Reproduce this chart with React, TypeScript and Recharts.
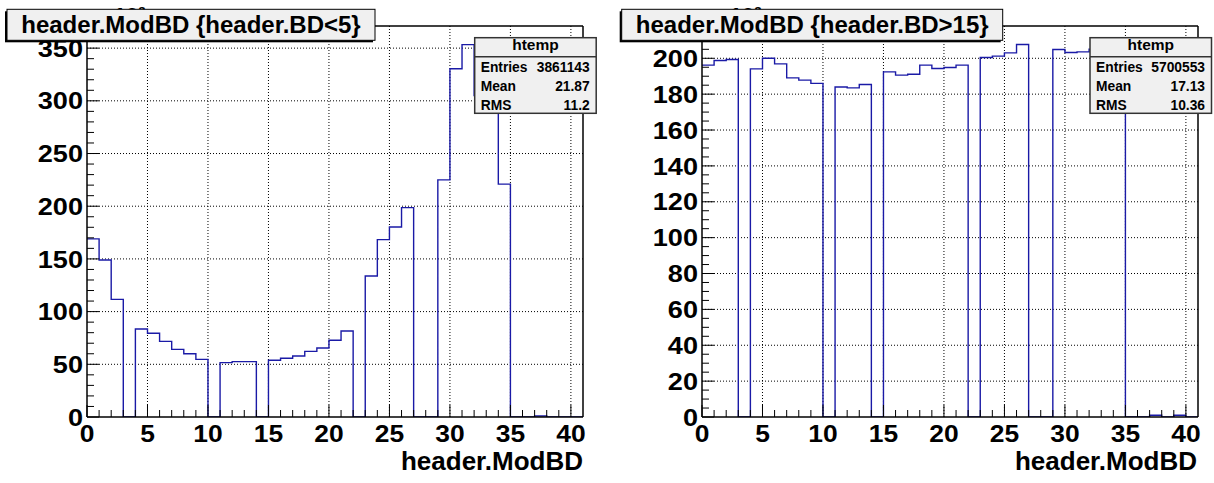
import { LineChart, Line, XAxis, YAxis, ReferenceLine } from "recharts";

// bin lower edges of header.ModBD (one unit wide), plus the upper edge 41
const binEdges = [
  0, 1, 2, 3, 4, 5, 6, 7, 8, 9, 10, 11, 12, 13, 14, 15, 16, 17, 18, 19, 20,
  21, 22, 23, 24, 25, 26, 27, 28, 29, 30, 31, 32, 33, 34, 35, 36, 37, 38, 39,
  40, 41,
];

// counts per bin, in units of 10^3
const countsBdLt5 = [
  169, 149, 111.6, 0, 83.5, 79.4, 71.8, 64.2, 60, 54.7, 0, 51.6, 52.5, 52.5, 0,
  53.8, 55.7, 57.9, 62.3, 65.5, 72.8, 81.6, 0, 133.8, 168.3, 180.3, 198.7, 0, 0,
  225, 330.5, 353.3, 305, 294, 221, 0, 0, 1, 0, 0, 0,
];
const countsBdGt15 = [
  196.2, 198.8, 199.3, 0, 194.1, 200, 196.9, 189.1, 187.8, 186, 0, 184, 183.5,
  185.4, 0, 192.4, 190.6, 191.1, 196.2, 194.3, 194.9, 196.2, 0, 200.4, 201.2,
  203, 207.7, 0, 0, 204.9, 203.2, 203.6, 205, 207, 206, 0, 0, 1, 0, 1, 0,
];

const xMajorTicks = [0, 5, 10, 15, 20, 25, 30, 35, 40];
const yMajorLeft = [0, 50, 100, 150, 200, 250, 300, 350];
const yMajorRight = [0, 20, 40, 60, 80, 100, 120, 140, 160, 180, 200];

const statLabels = ["Entries", "Mean", "RMS"];
const statsLeft = ["3861143", "21.87", "11.2"];
const statsRight = ["5700553", "17.13", "10.36"];

const FONT = "'Liberation Sans', Arial, Helvetica, sans-serif";
const LINE_BLUE = "#1a1aa6";
const PANEL_W = 607;
const H = 483;

function XTick(props: any) {
  const { x, y, payload } = props;
  const major = xMajorTicks.includes(payload.value);
  return (
    <g>
      <line x1={x} x2={x} y1={y} y2={y - (major ? 12 : 7)} stroke="#000" />
      {major && (
        <text
          transform={`translate(${x},${y + 24.5}) scale(1.1,1)`}
          textAnchor="middle"
          fontFamily={FONT}
          fontWeight="bold"
          fontSize={24}
          fill="#000"
        >
          {payload.value}
        </text>
      )}
    </g>
  );
}

function makeYTick(majors: number[]) {
  return (props: any) => {
    const { x, y, payload } = props;
    const major = majors.includes(payload.value);
    return (
      <g>
        <line x1={x} x2={x + (major ? 12 : 7)} y1={y} y2={y} stroke="#000" />
        {major && (
          <text
            transform={`translate(${x - 4},${y}) scale(1.13,1)`}
            dy="0.36em"
            textAnchor="end"
            fontFamily={FONT}
            fontWeight="bold"
            fontSize={24}
            fill="#000"
          >
            {payload.value}
          </text>
        )}
      </g>
    );
  };
}

function Histogram({
  counts,
  yMax,
  yMinorStep,
  yMajor,
  margin,
}: {
  counts: number[];
  yMax: number;
  yMinorStep: number;
  yMajor: number[];
  margin: { top: number; right: number; bottom: number; left: number };
}) {
  const data = binEdges.map((edge, i) => ({
    edge,
    count: counts[Math.min(i, counts.length - 1)],
  }));
  const yTicks: number[] = [];
  for (let v = 0; v <= yMax; v += yMinorStep) yTicks.push(v);
  const xTicks = binEdges.slice(0, -1);

  return (
    <LineChart width={PANEL_W} height={H} data={data} margin={margin}>
      {xMajorTicks.slice(1).map((v) => (
        <ReferenceLine
          key={`gx${v}`}
          x={v}
          stroke="#000"
          strokeWidth={1}
          strokeDasharray="1 2"
        />
      ))}
      {yMajor.slice(1).map((v) => (
        <ReferenceLine
          key={`gy${v}`}
          y={v}
          stroke="#000"
          strokeWidth={1}
          strokeDasharray="1 2"
        />
      ))}
      <Line
        type="stepAfter"
        dataKey="count"
        stroke={LINE_BLUE}
        strokeWidth={1.4}
        dot={false}
        isAnimationActive={false}
      />
      <XAxis
        dataKey="edge"
        type="number"
        domain={[0, 41]}
        ticks={xTicks}
        interval={0}
        tickSize={0}
        tickMargin={0}
        height={66}
        axisLine={{ stroke: "#000", strokeWidth: 1.5 }}
        tick={XTick}
        allowDataOverflow
      />
      <YAxis
        type="number"
        domain={[0, yMax]}
        ticks={yTicks}
        interval={0}
        tickSize={0}
        tickMargin={0}
        width={80}
        axisLine={{ stroke: "#000", strokeWidth: 1.5 }}
        tick={makeYTick(yMajor)}
        allowDataOverflow
      />
      <ReferenceLine x={41} stroke="#000" strokeWidth={1.5} />
      <ReferenceLine y={yMax} stroke="#000" strokeWidth={1.5} />
    </LineChart>
  );
}

function StatsBox({ x, values }: { x: number; values: string[] }) {
  const y = 37.7;
  const w = 121.5;
  const h = 75.6;
  const baselines = [71.7, 91, 110];
  return (
    <g>
      <rect x={x} y={y} width={w} height={h} fill="#f0f0f0" stroke="#333" strokeWidth={1.5} />
      <line x1={x} x2={x + w} y1={56.7} y2={56.7} stroke="#333" strokeWidth={1.5} />
      <text x={x + w / 2} y={50.3} textAnchor="middle" fontSize={15.5}>
        htemp
      </text>
      {statLabels.map((label, i) => (
        <g key={label}>
          <text x={x + 6} y={baselines[i]} fontSize={13.8}>
            {label}
          </text>
          <text x={x + w - 6.5} y={baselines[i]} fontSize={13.8} textAnchor="end">
            {values[i]}
          </text>
        </g>
      ))}
    </g>
  );
}

function TitleBox({ x, w, text }: { x: number; w: number; text: string }) {
  return (
    <g>
      <rect x={x - 2} y={11.3} width={w} height={31} fill="#000" />
      <rect x={x} y={9.3} width={w} height={31} fill="#f0f0f0" stroke="#000" strokeWidth={1} />
      <text x={x + w / 2} y={33} textAnchor="middle" fontSize={24}>
        {text}
      </text>
    </g>
  );
}

function Overlay() {
  return (
    <svg
      width={1214}
      height={H}
      style={{ position: "absolute", left: 0, top: 0, pointerEvents: "none" }}
      fontFamily={FONT}
      fontWeight="bold"
      fill="#000"
    >
      {/* axis exponent labels, mostly hidden behind the title boxes as in the original */}
      <text x={101} y={22.5} fontSize={22}>
        ×10³
      </text>
      <text x={717} y={22.5} fontSize={22}>
        ×10³
      </text>
      <TitleBox x={7} w={368} text="header.ModBD {header.BD<5}" />
      <TitleBox x={621.7} w={381} text="header.ModBD {header.BD>15}" />
      <StatsBox x={474.7} values={statsLeft} />
      <StatsBox x={1090} values={statsRight} />
      <text x={583} y={470} textAnchor="end" fontSize={26}>
        header.ModBD
      </text>
      <text x={1197} y={470} textAnchor="end" fontSize={26}>
        header.ModBD
      </text>
    </svg>
  );
}

export default function App() {
  return (
    <div
      style={{
        position: "absolute",
        left: 0,
        top: 0,
        width: 1214,
        height: H,
        background: "#fff",
        overflow: "hidden",
      }}
    >
      <div style={{ position: "absolute", left: 0, top: 0 }}>
        <Histogram
          counts={countsBdLt5}
          yMax={371}
          yMinorStep={10}
          yMajor={yMajorLeft}
          margin={{ top: 26, right: 24, bottom: 0, left: 7 }}
        />
      </div>
      <div style={{ position: "absolute", left: PANEL_W, top: 0 }}>
        <Histogram
          counts={countsBdGt15}
          yMax={218}
          yMinorStep={5}
          yMajor={yMajorRight}
          margin={{ top: 26, right: 16, bottom: 0, left: 15 }}
        />
      </div>
      <Overlay />
    </div>
  );
}
